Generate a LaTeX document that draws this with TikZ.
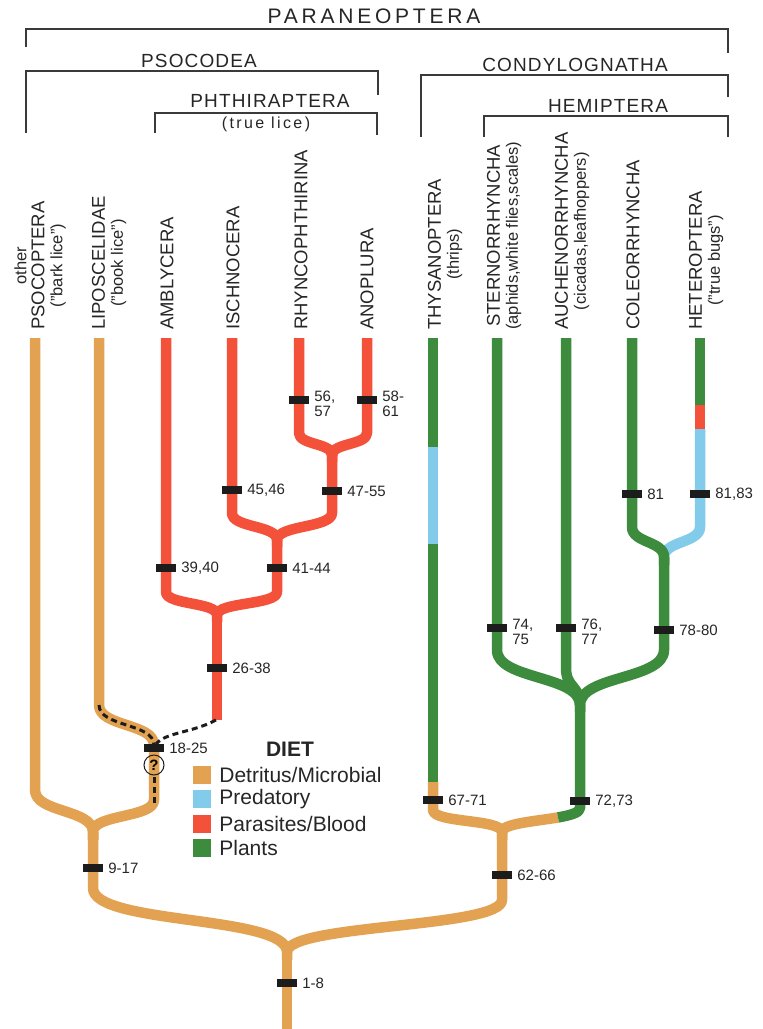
\documentclass[tikz,border=0pt]{standalone}
\usepackage{fontspec}
\setmainfont{Liberation Sans}
\newfontfamily\cladefont[LetterSpace=6]{Liberation Sans}
\newfontfamily\topcladefont[LetterSpace=18]{Liberation Sans}
\newfontfamily\licefont[LetterSpace=15]{Liberation Sans}
\newcommand{\glossfont}{\fontsize{16.5}{18}\selectfont}
\usepackage{tikz}
\usetikzlibrary{positioning}
\definecolor{dietDet}{HTML}{E2A252}
\definecolor{dietPred}{HTML}{82CBEA}
\definecolor{dietPara}{HTML}{F4513B}
\definecolor{dietPlant}{HTML}{3D8B3D}
\definecolor{bracketGray}{HTML}{3A3A3A}
\definecolor{barBlack}{HTML}{1C1C1C}

\begin{document}
\begin{tikzpicture}[x=1pt, y=-1pt,
    branch/.style={line width=10.5pt, line cap=butt, line join=round},
    synbar/.style={rectangle, fill=barBlack, minimum width=20pt, minimum height=8pt, inner sep=0pt},
    numlab/.style={font=\fontsize{15}{15}\selectfont, inner sep=0pt, align=left, text=black!85},
    taxon/.style={rotate=90, anchor=west, align=center, inner sep=0pt, font=\fontsize{18.5}{18}\selectfont, text=black!85},
    clade/.style={draw=bracketGray, line width=1.2pt},
    cladename/.style={anchor=base, inner sep=0pt, font=\cladefont\fontsize{19}{19}\selectfont, text=black!85},
    swatch/.style={rectangle, minimum size=18pt, inner sep=0pt},
    dietlab/.style={anchor=west, inner sep=0pt, font=\fontsize{21}{21}\selectfont, text=black!85},
    unsure/.style={line width=3pt, dash pattern=on 6pt off 4pt, barBlack}
  ]
  \useasboundingbox[fill=white] (0,0) rectangle (763,1029);

  % === Clade brackets ===
  \node[anchor=base, inner sep=0pt, font=\topcladefont\fontsize{21}{21}\selectfont, text=black!85] (nParaneo) at (374,23) {PARANEOPTERA};
  \draw[clade] (26,47) -- (26,29) -- (728,29) -- (728,53);
  \node[cladename] (nPsoco) at (199,67) {PSOCODEA};
  \draw[clade] (26,133) -- (26,71) -- (378,71) -- (378,95);
  \node[cladename] (nPhthi) at (270,107) {PHTHIRAPTERA};
  \node[anchor=base, inner sep=0pt, font=\licefont\fontsize{16}{16}\selectfont, text=black!85] (nLice) at (266,128) {(true lice)};
  \draw[clade] (155,133) -- (155,113) -- (377,113) -- (377,135);
  \node[cladename] (nCondy) at (575,71) {CONDYLOGNATHA};
  \draw[clade] (421,137) -- (421,75) -- (728,75) -- (728,97);
  \node[cladename] (nHemi) at (608,112) {HEMIPTERA};
  \draw[clade] (484,137) -- (484,116) -- (728,116) -- (728,137);

  % === Taxon names ===
  \node[taxon] (tPsoc) at (40,330) {{\glossfont other}\\PSOCOPTERA\\{\glossfont("bark lice")}};
  \node[taxon] (tLipo) at (109,330) {LIPOSCELIDAE\\{\glossfont("book lice")}};
  \node[taxon] (tAmbly) at (167,330) {AMBLYCERA};
  \node[taxon] (tIschno) at (233,330) {ISCHNOCERA};
  \node[taxon] (tRhyn) at (301,330) {RHYNCOPHTHIRINA};
  \node[taxon] (tAnop) at (367,330) {ANOPLURA};
  \node[taxon] (tThys) at (445,330) {THYSANOPTERA\\{\glossfont(thrips)}};
  \node[taxon] (tStern) at (504,330) {STERNORRHYNCHA\\{\glossfont(aphids,white flies,scales)}};
  \node[taxon] (tAuch) at (572,330) {AUCHENORRHYNCHA\\{\glossfont(cicadas,leafhoppers)}};
  \node[taxon] (tColeo) at (633,330) {COLEORRHYNCHA};
  \node[taxon] (tHet) at (706,330) {HETEROPTERA\\{\glossfont("true bugs")}};

  % === Junctions ===
  \coordinate (jRoot) at (287,952);
  \coordinate (jPsoc) at (93,832);
  \coordinate (jLice) at (217,615);
  \coordinate (jIsch) at (277,540);
  \coordinate (jAnop) at (332,455);
  \coordinate (jCondy) at (502,832);
  \coordinate (jHemi) at (580,705);
  \coordinate (jHet) at (664,557);

  % === Psocodea ===
  \draw[branch, dietDet] (35,338) -- (35,790) .. controls (35,813) and (93,809) .. (jPsoc) -- (93,840);
  \draw[branch, dietDet] (99,338) -- (99,705) .. controls (99,727) and (154,723) .. (154,745)
    -- (154,800) .. controls (154,818) and (93,814) .. (jPsoc) -- (93,840);
  \draw[branch, dietDet] (jPsoc) -- (93,888) .. controls (93,925) and (287,915) .. (jRoot) -- (287,960);
  \draw[branch, dietDet] (jCondy) -- (502,900) .. controls (502,928) and (287,924) .. (jRoot);
  \draw[branch, dietDet] (jRoot) -- (287,1035);

  \draw[branch, dietPara] (166,338) -- (166,592) .. controls (166,605) and (217,602) .. (jLice) -- (217,622);
  \draw[branch, dietPara] (jIsch) -- (277,592) .. controls (277,605) and (217,602) .. (jLice);
  \draw[branch, dietPara] (jLice) -- (217,720);
  \draw[branch, dietPara] (232,338) -- (232,513) .. controls (232,528) and (277,525) .. (jIsch) -- (277,547);
  \draw[branch, dietPara] (jAnop) -- (332,513) .. controls (332,528) and (277,525) .. (jIsch);
  \draw[branch, dietPara] (299,338) -- (299,433) .. controls (299,445) and (332,443) .. (jAnop) -- (332,462);
  \draw[branch, dietPara] (367,338) -- (367,433) .. controls (367,445) and (332,443) .. (jAnop);

  % uncertain placement of lice
  \draw[unsure] (99,705) .. controls (99,727) and (154,723) .. (154,745);
  \draw[unsure] (216,720) .. controls (192,733) and (166,732) .. (156,744);
  \draw[unsure] (154,777) -- (154,804);
  \node[circle, draw=barBlack, line width=1pt, minimum size=20pt, inner sep=0pt,
    font=\bfseries\fontsize{15}{15}\selectfont] (qLice) at (154,765) {?};

  % === Condylognatha ===
  \draw[branch, dietPlant] (433,338) -- (433,447);
  \draw[branch, dietPred] (433,447) -- (433,544);
  \draw[branch, dietPlant] (433,544) -- (433,782);
  \draw[branch, dietDet] (433,782) -- (433,810) .. controls (433,823) and (502,819) .. (jCondy) -- (502,840);
  \draw[branch, dietDet] (558.03,817.42) .. controls (534.95,821.44) and (502,823.55) .. (jCondy);
  \draw[branch, dietPlant] (jHemi) -- (580,808) .. controls (580,812.55) and (570.45,815.26) .. (558.03,817.42);

  \draw[branch, dietPlant] (497,338) -- (497,650) .. controls (497,680) and (580,675) .. (jHemi) -- (580,712);
  \draw[branch, dietPlant] (566,338) -- (566,668) .. controls (566,688) and (580,685) .. (jHemi);
  \draw[branch, dietPlant] (jHet) -- (664,650) .. controls (664,680) and (580,675) .. (jHemi);
  \draw[branch, dietPlant] (700,338) -- (700,405);
  \draw[branch, dietPara] (700,405) -- (700,429);
  \draw[branch, dietPred] (700,429) -- (700,527) .. controls (700,543) and (664,541) .. (jHet);
  \draw[branch, dietPlant] (632,338) -- (632,527) .. controls (632,543) and (664,541) .. (jHet) -- (664,565);

  % === Character bars ===
  \node[synbar] (m1) at (287,983) {};
  \node[synbar] (m9) at (93,868) {};
  \node[synbar] (m18) at (154,748) {};
  \node[synbar] (m26) at (217,668) {};
  \node[synbar] (m39) at (166,568) {};
  \node[synbar] (m41) at (277,568) {};
  \node[synbar] (m45) at (232,490) {};
  \node[synbar] (m47) at (332,491) {};
  \node[synbar] (m56) at (299,400) {};
  \node[synbar] (m58) at (367,400) {};
  \node[synbar] (m62) at (502,875) {};
  \node[synbar] (m67) at (433,800) {};
  \node[synbar] (m72) at (580,801) {};
  \node[synbar] (m74) at (497,628) {};
  \node[synbar] (m76) at (566,628) {};
  \node[synbar] (m78) at (664,630) {};
  \node[synbar] (m81) at (632,494) {};
  \node[synbar] (m82) at (700,494) {};

  \node[numlab, right=5pt of m1] (l1) {1-8};
  \node[numlab, right=5pt of m9] (l9) {9-17};
  \node[numlab, right=5pt of m18] (l18) {18-25};
  \node[numlab, right=5pt of m26] (l26) {26-38};
  \node[numlab, right=5pt of m39] (l39) {39,40};
  \node[numlab, right=5pt of m41] (l41) {41-44};
  \node[numlab, right=5pt of m45] (l45) {45,46};
  \node[numlab, right=5pt of m47] (l47) {47-55};
  \node[numlab, right=5pt of m56, yshift=-4pt] (l56) {56,\\57};
  \node[numlab, right=5pt of m58, yshift=-4pt] (l58) {58-\\61};
  \node[numlab, right=5pt of m62] (l62) {62-66};
  \node[numlab, right=5pt of m67] (l67) {67-71};
  \node[numlab, right=5pt of m72] (l72) {72,73};
  \node[numlab, right=5pt of m74, yshift=-4pt] (l74) {74,\\75};
  \node[numlab, right=5pt of m76, yshift=-4pt] (l76) {76,\\77};
  \node[numlab, right=5pt of m78] (l78) {78-80};
  \node[numlab, right=5pt of m81] (l81) {81};
  \node[numlab, right=5pt of m82] (l82) {81,83};

  % === Diet legend ===
  \node[anchor=base, inner sep=0pt, font=\bfseries\fontsize{21}{21}\selectfont, text=black!85] (dietHead) at (290,756) {DIET};
  \node[swatch, fill=dietDet] (swDet) at (202,775) {};
  \node[swatch, fill=dietPred] (swPred) at (202,799) {};
  \node[swatch, fill=dietPara] (swPara) at (202,824) {};
  \node[swatch, fill=dietPlant] (swPlant) at (202,848) {};
  \node[dietlab, right=8pt of swDet] (lDet) {Detritus/Microbial};
  \node[dietlab, right=8pt of swPred] (lPred) {Predatory};
  \node[dietlab, right=8pt of swPara] (lPara) {Parasites/Blood};
  \node[dietlab, right=8pt of swPlant] (lPlant) {Plants};
\end{tikzpicture}
\end{document}
